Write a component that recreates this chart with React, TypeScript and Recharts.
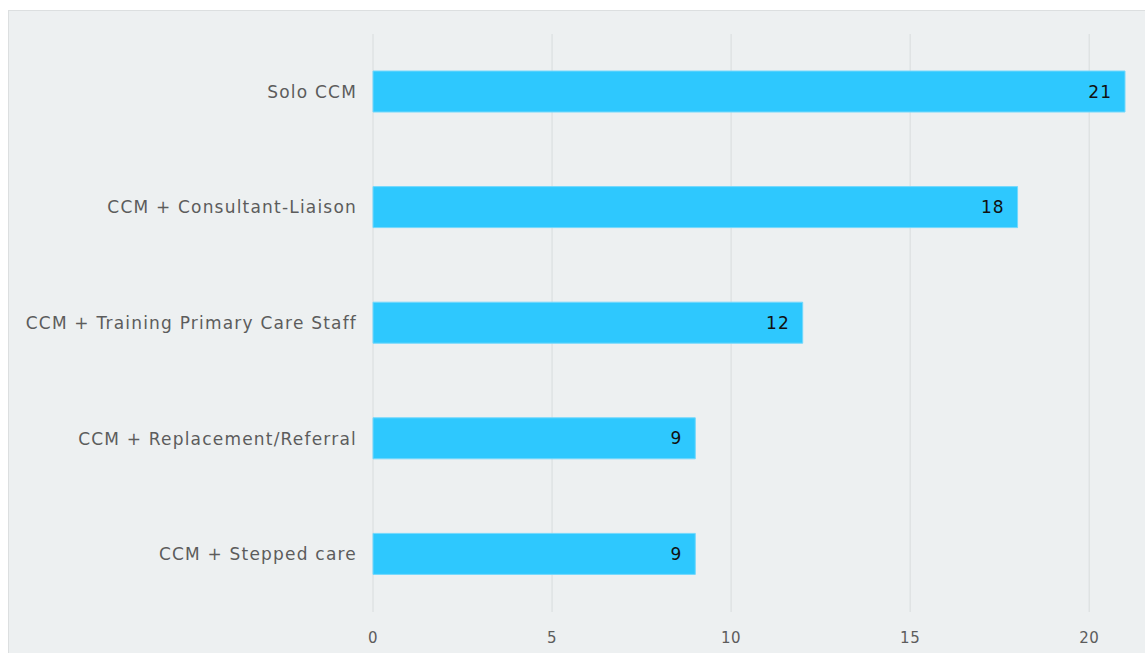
import { BarChart, Bar, XAxis, YAxis, CartesianGrid, LabelList } from "recharts";

const categories = [
  "Solo CCM",
  "CCM + Consultant-Liaison",
  "CCM + Training Primary Care Staff",
  "CCM + Replacement/Referral",
  "CCM + Stepped care",
];
const counts = [21, 18, 12, 9, 9];
const xTicks = [0, 5, 10, 15, 20];

const data = categories.map((name, i) => ({ name, count: counts[i] }));

const FONT = "'DejaVu Sans', Verdana, sans-serif";

export default function App() {
  return (
    <div
      style={{
        position: "fixed",
        left: 8,
        top: 10,
        width: 1137,
        height: 643,
        background: "#edf0f1",
        borderTop: "1px solid #dcdfe0",
        borderLeft: "1px solid #dcdfe0",
        boxSizing: "border-box",
        overflow: "hidden",
      }}
    >
      <BarChart
        layout="vertical"
        width={1136}
        height={660}
        data={data}
        margin={{ top: 23, right: 20, bottom: 19, left: 0 }}
      >
        <CartesianGrid horizontal={false} stroke="#d8dcdd" syncWithTicks />
        <XAxis
          type="number"
          domain={[0, 21]}
          ticks={xTicks}
          axisLine={false}
          tickLine={false}
          tickMargin={14}
          height={40}
          tick={{ fontSize: 15, fill: "#5c5c5c", fontFamily: FONT, letterSpacing: 0.5 }}
        />
        <YAxis
          type="category"
          dataKey="name"
          width={364}
          axisLine={false}
          tickLine={false}
          tickMargin={10}
          tick={{ fontSize: 17, fill: "#5c5c5c", fontFamily: FONT, letterSpacing: 1.2 }}
        />
        <Bar
          dataKey="count"
          fill="#2ec8fe"
          stroke="#74d8fc"
          strokeWidth={1}
          barSize={41}
          isAnimationActive={false}
        >
          <LabelList
            dataKey="count"
            position="insideRight"
            offset={13}
            style={{ fontSize: 17, fill: "#111", fontFamily: FONT, letterSpacing: 1 }}
          />
        </Bar>
      </BarChart>
    </div>
  );
}
